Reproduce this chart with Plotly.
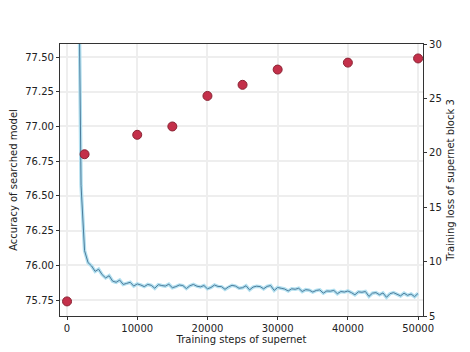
import plotly.graph_objects as go

# accuracy of searched model (left axis, red dots)
acc_steps = [0, 2500, 10000, 15000, 20000, 25000, 30000, 40000, 50000]
acc_values = [75.74, 76.80, 76.94, 77.00, 77.22, 77.30, 77.41, 77.46, 77.49]

# training loss of supernet block 3 (right axis), sampled every 500 steps from 1500
loss_values = [
    48.0, 17.0, 11.0, 9.9, 9.6, 9.1, 9.3, 8.8, 8.5, 8.7, 8.2, 8.1, 8.3, 7.9, 8.0, 8.1, 7.75, 7.95,
    7.85, 7.7, 7.9, 7.82, 7.55, 7.88, 7.8, 7.75, 7.92, 7.6, 7.7, 7.85, 7.8, 7.52, 7.78, 7.9, 7.74, 7.68, 7.8, 7.5,
    7.62, 7.85, 7.72, 7.7, 7.45, 7.68, 7.82, 7.75, 7.55, 7.6, 7.78, 7.4, 7.66, 7.74, 7.7, 7.5, 7.72, 7.8, 7.35, 7.62,
    7.55, 7.48, 7.3, 7.5, 7.46, 7.55, 7.25, 7.42, 7.38, 7.2, 7.35, 7.4, 7.1, 7.3, 7.28, 7.35, 7.05, 7.25, 7.2, 7.3,
    7.15, 6.95, 7.22, 7.18, 7.25, 6.8, 7.1, 7.15, 6.95, 7.12, 6.72, 7.05, 7.15, 7.0, 6.85, 7.1, 6.9, 7.02, 6.78, 7.08,
]
loss_steps = list(range(1500, 1500 + 500 * len(loss_values), 500))

font = dict(family="DejaVu Sans", size=10, color="#222222")

fig = go.Figure()

# loss on base axis 'y' (right side) so the dots on y2 are drawn on top
fig.add_trace(go.Scatter(
    x=loss_steps, y=loss_values, mode="lines",
    line=dict(color="#b3e0f0", width=3.5), yaxis="y", showlegend=False,
))
fig.add_trace(go.Scatter(
    x=loss_steps, y=loss_values, mode="lines",
    line=dict(color="#4d7d9c", width=1), yaxis="y", showlegend=False,
))
fig.add_trace(go.Scatter(
    x=acc_steps, y=acc_values, mode="markers",
    marker=dict(color="#c4304a", size=9, line=dict(color="#8a2232", width=1)),
    yaxis="y2", showlegend=False,
))

fig.update_layout(
    width=470, height=352,
    margin=dict(l=52, r=55, t=36, b=44),
    paper_bgcolor="white", plot_bgcolor="white",
    font=font,
    xaxis=dict(
        range=[-1000, 50700], tickvals=[0, 10000, 20000, 30000, 40000, 50000], tickformat="d",
        ticks="outside", ticklen=3, tickcolor="#333", showline=True, linecolor="#333", linewidth=1.2,
        mirror=True, showgrid=True, gridcolor="#eeeeee", gridwidth=2, zeroline=False, automargin=False,
        title=dict(text="Training steps of supernet", standoff=2, font=font),
    ),
    yaxis=dict(
        side="right", range=[5, 30], tickvals=[5, 10, 15, 20, 25, 30],
        ticks="outside", ticklen=3, tickcolor="#333", showline=True, linecolor="#333", linewidth=1.2,
        showgrid=False, zeroline=False, automargin=False,
        title=dict(text="Training loss of supernet block 3", standoff=6, font=font),
    ),
    yaxis2=dict(
        side="left", overlaying="y", range=[75.635, 77.594],
        tickvals=[75.75, 76.0, 76.25, 76.5, 76.75, 77.0, 77.25, 77.5], tickformat=".2f",
        ticks="outside", ticklen=3, tickcolor="#333", showline=True, linecolor="#333", linewidth=1.2,
        showgrid=True, gridcolor="#eeeeee", gridwidth=2, zeroline=False, automargin=False,
        title=dict(text="Accuracy of searched model", standoff=6, font=font),
    ),
)

fig.write_html("out.html")
